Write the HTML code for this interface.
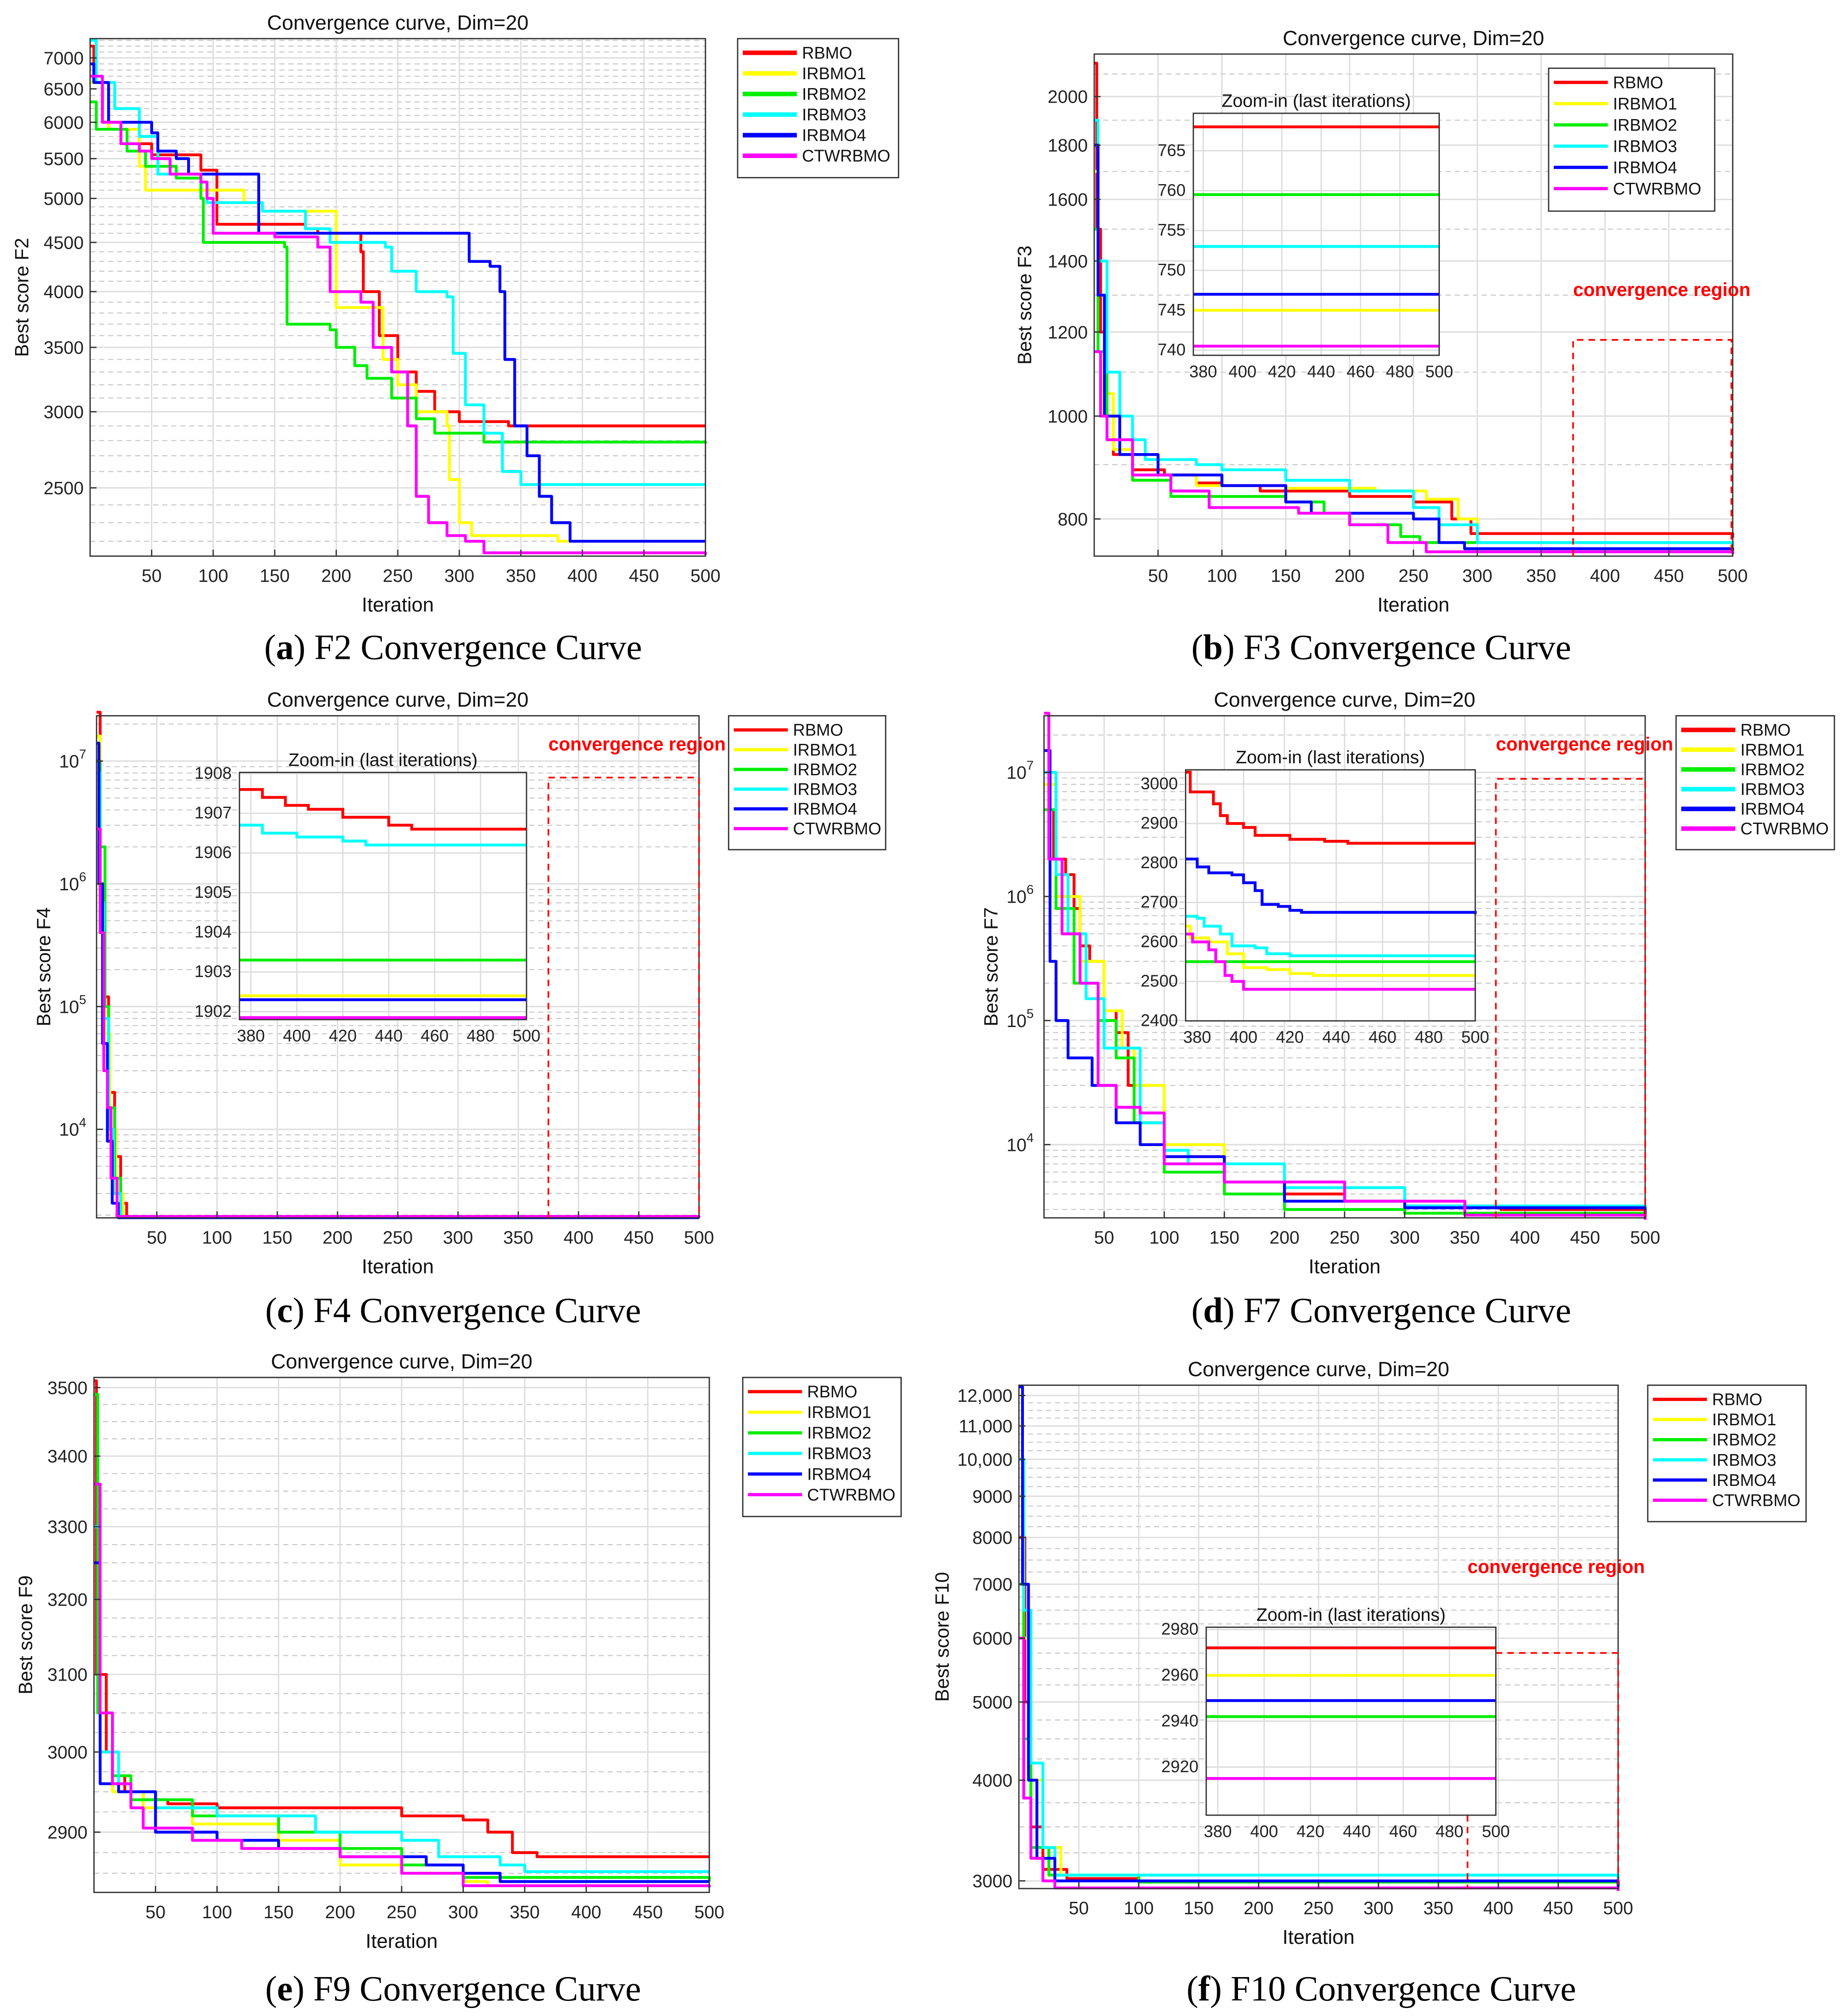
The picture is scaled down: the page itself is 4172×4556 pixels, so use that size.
<!DOCTYPE html>
<html><head><meta charset="utf-8"><style>
html,body{margin:0;padding:0;background:#fff}
svg{display:block}
text{font-family:"Liberation Sans",Arial,sans-serif}
.cap{font-family:"Liberation Serif",serif;font-size:27.5px}
</style></head><body>
<svg id="fig" xmlns="http://www.w3.org/2000/svg" width="4172" height="4556" viewBox="0 0 1434 1566"></svg>
<script>
const names = ["RBMO","IRBMO1","IRBMO2","IRBMO3","IRBMO4","CTWRBMO"];
const colors = ["#ff0000","#ffff00","#00ee00","#00ffff","#0000ff","#ff00ff"];
const xTicks = [50,100,150,200,250,300,350,400,450,500];
const insetXTicks = [380,400,420,440,460,480,500];

// Panel a (F2)
const f2_yTicks = [2500,3000,3500,4000,4500,5000,5500,6000,6500,7000];
const f2_rbmo = [[0,7200],[3,6600],[10,6000],[40,5700],[50,5550],[90,5350],[103,4700],[175,4650],[185,4600],[220,4400],[222,4000],[235,3600],[250,3300],[265,3150],[280,3000],[300,2930],[340,2900],[500,2900]];
const f2_irbmo1 = [[0,6600],[15,5900],[40,5400],[45,5100],[120,5100],[125,4950],[140,4850],[195,4850],[200,3850],[235,3850],[238,3400],[250,3200],[265,3000],[290,2900],[292,2550],[300,2300],[310,2230],[380,2200],[500,2200]];
const f2_irbmo2 = [[0,6300],[5,5900],[30,5600],[45,5400],[70,5250],[90,5000],[92,4500],[158,4450],[160,3700],[195,3650],[200,3500],[215,3350],[225,3250],[245,3100],[265,2950],[280,2850],[320,2790],[500,2780]];
const f2_irbmo3 = [[0,7300],[5,6600],[20,6200],[40,5800],[55,5300],[90,5200],[95,4950],[140,4850],[175,4650],[195,4500],[240,4450],[245,4200],[265,4000],[290,3950],[295,3450],[305,3050],[320,2850],[335,2600],[350,2520],[500,2520]];
const f2_irbmo4 = [[0,6900],[3,6600],[15,6000],[50,5850],[55,5600],[70,5500],[80,5300],[135,5300],[137,4600],[306,4600],[308,4300],[325,4250],[333,4000],[337,3400],[345,2900],[355,2700],[365,2450],[375,2300],[390,2200],[500,2200]];
const f2_ctw = [[0,6700],[10,6000],[25,5700],[40,5600],[50,5500],[65,5300],[90,5200],[95,5000],[100,4600],[150,4560],[185,4450],[195,4000],[220,3900],[230,3500],[245,3300],[258,2900],[265,2450],[275,2300],[290,2230],[305,2200],[320,2140],[500,2130]];

// Panel b (F3)
const f3_yTicks = [800,1000,1200,1400,1600,1800,2000];
const f3_rbmo = [[0,2150],[2,1500],[5,1200],[10,1000],[15,920],[30,890],[55,880],[80,865],[100,860],[130,850],[200,840],[250,830],[280,800],[295,775],[500,768]];
const f3_irbmo1 = [[0,1700],[3,1300],[8,1050],[15,930],[30,880],[80,860],[150,855],[220,850],[260,835],[285,800],[300,760],[500,745]];
const f3_irbmo2 = [[0,1500],[3,1150],[10,950],[30,870],[60,840],[150,830],[180,810],[200,790],[240,770],[255,760],[500,759]];
const f3_irbmo3 = [[0,1900],[3,1400],[10,1100],[20,1000],[30,950],[40,910],[80,900],[100,890],[150,870],[200,850],[250,820],[270,790],[300,760],[500,753]];
const f3_irbmo4 = [[0,1800],[3,1300],[8,1000],[20,920],[50,880],[100,860],[150,830],[170,810],[250,800],[270,760],[290,750],[500,747]];
const f3_ctw = [[0,1150],[5,1000],[10,950],[30,880],[60,850],[90,820],[150,820],[160,810],[200,790],[230,760],[260,745],[500,741]];
const f3_inYTicks = [740,745,750,755,760,765];
const f3_final = [768,745,759.5,753,747,740.5];

// Panel c (F4)
const f4_rbmo = [[0,2.5e7],[3,1e6],[6,1.2e5],[10,2e4],[15,6000],[20,2500],[25,1910],[500,1906.6]];
const f4_irbmo1 = [[0,1.6e7],[3,5e5],[7,6e4],[11,1e4],[16,3000],[22,1905],[500,1902.4]];
const f4_irbmo2 = [[0,1e7],[3,2e6],[7,1e5],[10,1.5e4],[15,4000],[20,1950],[500,1903.3]];
const f4_irbmo3 = [[0,8e6],[3,7e5],[6,8e4],[10,1e4],[14,3000],[20,1920],[500,1906.2]];
const f4_irbmo4 = [[0,1.4e7],[2,1e6],[5,5e4],[9,8000],[13,2500],[18,1905],[500,1902.3]];
const f4_ctw = [[0,2.8e6],[3,4e5],[6,3e4],[9,1.5e4],[12,4000],[17,1950],[500,1901.8]];
const f4_inYTicks = [1902,1903,1904,1905,1906,1907,1908];
const f4_in_rbmo = [[375,1907.6],[385,1907.4],[395,1907.2],[405,1907.1],[420,1906.9],[440,1906.7],[450,1906.6],[500,1906.6]];
const f4_in_irbmo1 = [[375,1902.4],[500,1902.4]];
const f4_in_irbmo2 = [[375,1903.3],[500,1903.3]];
const f4_in_irbmo3 = [[375,1906.7],[385,1906.5],[400,1906.4],[420,1906.3],[430,1906.2],[500,1906.2]];
const f4_in_irbmo4 = [[375,1902.3],[500,1902.3]];
const f4_in_ctw = [[375,1901.85],[500,1901.85]];

// Panel d (F7)
const f7_rbmo = [[0,1e7],[5,5e6],[8,2e6],[18,1.5e6],[25,8e5],[30,4e5],[38,3e5],[50,1.2e5],[60,8e4],[70,3e4],[80,1.5e4],[100,8000],[150,5000],[200,4000],[250,3500],[300,3200],[380,3000],[500,3000]];
const f7_irbmo1 = [[0,8e6],[10,1e6],[30,3e5],[50,1.2e5],[65,6e4],[75,3e4],[100,1e4],[150,5000],[250,3500],[350,2800],[500,2520]];
const f7_irbmo2 = [[0,5e6],[10,8e5],[25,2e5],[45,1e5],[60,5e4],[75,1.5e4],[100,6000],[150,4000],[200,3000],[300,2800],[500,2550]];
const f7_irbmo3 = [[0,1e7],[10,1.5e6],[20,5e5],[35,1.5e5],[50,6e4],[80,1.5e4],[100,9000],[120,7000],[200,4500],[300,3200],[500,2565]];
const f7_irbmo4 = [[0,1.5e7],[5,3e5],[10,1e5],[20,5e4],[40,3e4],[60,1.5e4],[80,1e4],[100,8000],[150,5000],[200,3500],[300,3100],[500,2670]];
const f7_ctw = [[0,3e7],[4,2e6],[15,5e5],[30,2e5],[45,3e4],[60,2e4],[80,1.8e4],[100,7000],[150,5000],[250,3500],[350,2700],[500,2480]];
const f7_inYTicks = [2400,2500,2600,2700,2800,2900,3000];
const f7_in_rbmo = [[375,3030],[377,2980],[387,2950],[390,2920],[393,2900],[400,2890],[405,2870],[420,2860],[435,2855],[445,2850],[500,2850]];
const f7_in_irbmo1 = [[375,2640],[377,2610],[385,2600],[393,2570],[400,2535],[410,2530],[420,2520],[430,2515],[500,2515]];
const f7_in_irbmo2 = [[375,2550],[500,2550]];
const f7_in_irbmo3 = [[375,2665],[380,2660],[383,2640],[390,2620],[395,2590],[405,2585],[410,2570],[420,2565],[500,2565]];
const f7_in_irbmo4 = [[375,2810],[380,2790],[385,2775],[395,2770],[400,2750],[405,2730],[408,2695],[415,2690],[420,2680],[425,2675],[500,2670]];
const f7_in_ctw = [[375,2620],[378,2600],[385,2580],[388,2550],[392,2515],[395,2500],[400,2480],[500,2480]];

// Panel e (F9)
const f9_yTicks = [2900,3000,3100,3200,3300,3400,3500];
const f9_rbmo = [[0,3510],[2,3100],[10,3000],[15,2970],[25,2950],[40,2940],[60,2935],[100,2930],[240,2930],[250,2920],[300,2915],[320,2900],[340,2875],[360,2870],[500,2870]];
const f9_irbmo1 = [[0,3300],[5,3000],[15,2950],[40,2930],[80,2910],[150,2890],[200,2860],[250,2850],[300,2840],[320,2835],[500,2835]];
const f9_irbmo2 = [[0,3490],[3,3050],[15,2970],[30,2940],[80,2920],[150,2900],[200,2880],[250,2860],[300,2845],[500,2840]];
const f9_irbmo3 = [[0,3300],[5,3000],[20,2950],[50,2930],[100,2920],[180,2900],[250,2890],[280,2870],[330,2860],[350,2852],[500,2852]];
const f9_irbmo4 = [[0,3250],[5,2960],[20,2950],[50,2900],[100,2890],[150,2880],[200,2870],[270,2860],[300,2850],[330,2840],[500,2840]];
const f9_ctw = [[0,3360],[5,3050],[15,2960],[30,2930],[40,2905],[80,2890],[120,2880],[200,2870],[250,2850],[300,2835],[500,2833]];

// Panel f (F10)
const f10_yTicks = [3000,4000,5000,6000,7000,8000,9000,10000,11000,12000];
const f10_rbmo = [[0,8000],[5,5000],[10,3500],[20,3100],[40,3020],[100,3000],[500,2972]];
const f10_irbmo1 = [[0,9000],[4,6000],[10,4000],[20,3300],[35,3050],[100,3000],[500,2960]];
const f10_irbmo2 = [[0,7000],[4,4500],[10,3300],[25,3050],[100,2990],[500,2942]];
const f10_irbmo3 = [[0,10000],[4,6500],[10,4200],[20,3300],[30,3050],[500,2915]];
const f10_irbmo4 = [[0,12300],[3,7000],[8,4000],[15,3200],[30,3000],[500,2949]];
const f10_ctw = [[0,6000],[4,3800],[10,3200],[20,3000],[30,2940],[500,2915]];
const f10_inYTicks = [2920,2940,2960,2980];
const f10_final = [2972,2960,2942,2915,2949,2915];

const svg = document.getElementById('fig');
const NS = "http://www.w3.org/2000/svg";
function el(tag, attrs, parent, txt){
  const e = document.createElementNS(NS, tag);
  for (const k in attrs) e.setAttribute(k, attrs[k]);
  if (txt !== undefined) e.textContent = txt;
  (parent || svg).appendChild(e);
  return e;
}
function logScale(v0,v1,p0,p1){return v=>p0+(Math.log(v)-Math.log(v0))/(Math.log(v1)-Math.log(v0))*(p1-p0);}
function linScale(v0,v1,p0,p1){return v=>p0+(v-v0)/(v1-v0)*(p1-p0);}
function stepPath(pts,X,Y){
  let d = "M"+X(pts[0][0]).toFixed(2)+" "+Y(pts[0][1]).toFixed(2);
  for (let i=1;i<pts.length;i++) d += "H"+X(pts[i][0]).toFixed(2)+"V"+Y(pts[i][1]).toFixed(2);
  return d;
}
function gridH(g,y,x0,x1,dashed){
  const l = el('line',{x1:x0,x2:x1,y1:y,y2:y,stroke:dashed?'#c8c8c8':'#dcdcdc','stroke-width':dashed?0.8:1,'stroke-dasharray':dashed?'4 3':'none'},g);
  
  
}
function gridV(g,x,y0,y1){
  const l = el('line',{x1:x,x2:x,y1:y0,y2:y1,stroke:'#dcdcdc','stroke-width':1},g);
  
  
}

function panel(o){
  const g = el('g',{});
  
  
  const [bx0,by0,bx1,by1] = o.box;
  const X = linScale(0,500,bx0,bx1);
  const Y = logScale(o.ymin,o.ymax,by1,by0);
  (o.minor||[]).forEach(v=>{ if(v>o.ymin&&v<o.ymax) gridH(g,Y(v),bx0,bx1,true); });
  o.yTicks.forEach(v=>gridH(g,Y(v),bx0,bx1,false));
  xTicks.forEach(v=>gridV(g,X(v),by0,by1));
  o.series.forEach((s,i)=>{
    const p = el('path',{d:stepPath(s,X,Y),fill:'none',stroke:colors[i],'stroke-width':2.2,'stroke-linejoin':'round'},g);
    
    
  });
  const r = el('rect',{x:bx0,y:by0,width:bx1-bx0,height:by1-by0,fill:'none',stroke:'#333','stroke-width':1},g);
  
  
  xTicks.forEach(v=>{
    const t = el('text',{x:X(v),y:by1+20,'font-size':14,'text-anchor':'middle',fill:'#222'},g,String(v));
    
    
    el('line',{x1:X(v),x2:X(v),y1:by1,y2:by1-5,stroke:'#333'},g);
  });
  o.yTicks.forEach(v=>{
    const y = Y(v);
    if (o.decadeLabels){
      const t = el('text',{x:bx0-8,y:y+5,'font-size':14,'text-anchor':'end',fill:'#222'},g);
      
      
      el('tspan',{},t,'10');
      el('tspan',{dy:-7,'font-size':10},t,String(Math.round(Math.log10(v))));
    } else {
      const lab = v>=10000 ? v.toLocaleString('en-US') : String(v);
      const t = el('text',{x:bx0-5,y:y+5,'font-size':14,'text-anchor':'end',fill:'#222'},g,lab);
      
      
    }
    el('line',{x1:bx0,x2:bx0+5,y1:y,y2:y,stroke:'#333'},g);
  });
  const ti = el('text',{x:(bx0+bx1)/2,y:by0-7,'font-size':16,'text-anchor':'middle',fill:'#111'},g,'Convergence curve, Dim=20');
  
  
  const xl = el('text',{x:(bx0+bx1)/2,y:by1+43,'font-size':15.5,'text-anchor':'middle',fill:'#111'},g,'Iteration');
  
  
  const yl = el('text',{x:0,y:0,'font-size':15,'text-anchor':'middle',fill:'#111',transform:`translate(${o.ylx},${(by0+by1)/2}) rotate(-90)`},g,'Best score '+o.fn);
  
  
  const [lx,ly,lw,lh] = o.legend;
  const lg = el('g',{},g);
  
  
  el('rect',{x:lx,y:ly,width:lw,height:lh,fill:'#fff',stroke:'#333'},lg);
  const step = (lh-12)/6;
  names.forEach((n,i)=>{
    const yy = ly+11+step*i;
    const e = el('g',{},lg);
    
    
    el('line',{x1:lx+4,x2:lx+46,y1:yy,y2:yy,stroke:colors[i],'stroke-width':o.thickLegend?3.5:2.5},e);
    el('text',{x:lx+50,y:yy+4.5,'font-size':13,fill:'#111'},e,n);
  });
  const c = el('text',{x:o.cap[0],y:o.cap[1],'text-anchor':'middle',class:'cap'},g);
  
  
  el('tspan',{},c,'(');
  el('tspan',{'font-weight':'bold'},c,o.letter);
  el('tspan',{},c,') '+o.fn+' Convergence Curve');
  if (o.region){
    const [rx0,ry0,rx1,ry1,tx,ty] = o.region;
    const rg = el('path',{d:o.regionPath||`M${rx0} ${ry1}V${ry0}H${rx1}V${ry1}`,fill:'none',stroke:'#ff0000','stroke-width':1.3,'stroke-dasharray':'5 4'},g);
    
    
    const rt = el('text',{x:tx,y:ty,'font-size':14.5,'font-weight':'bold',fill:'#ff0000'},g,'convergence region');
    
    
  }
  if (o.inset) inset(g,o.inset);
}

function inset(parent,o){
  const g = el('g',{},parent);
  
  
  const [x0,y0,x1,y1] = o.box;
  const X = linScale(375,500,x0,x1);
  const Y = linScale(o.ymin,o.ymax,y1,y0);
  el('rect',{x:x0,y:y0,width:x1-x0,height:y1-y0,fill:'#fff'},g);
  o.yTicks.forEach(v=>gridH(g,Y(v),x0,x1,false));
  insetXTicks.forEach(v=>gridV(g,X(v),y0,y1));
  o.series.forEach((s,i)=>{
    const p = el('path',{d:stepPath(s,X,Y),fill:'none',stroke:colors[i],'stroke-width':2.2},g);
    
    
  });
  el('rect',{x:x0,y:y0,width:x1-x0,height:y1-y0,fill:'none',stroke:'#333'},g);
  insetXTicks.forEach(v=>{
    const t = el('text',{x:X(v),y:y1+17,'font-size':13,'text-anchor':'middle',fill:'#222'},g,String(v));
    
    
  });
  o.yTicks.forEach(v=>{
    const t = el('text',{x:x0-6,y:Y(v)+4,'font-size':13,'text-anchor':'end',fill:'#222'},g,String(v));
    
    
  });
  const t = el('text',{x:(x0+x1)/2,y:y0-5,'font-size':14,'text-anchor':'middle',fill:'#111'},g,'Zoom-in (last iterations)');
  
  
}
function flat(vals){ return vals.map(v=>[[375,v],[500,v]]); }
function minorLog(d0,d1){ const a=[]; for(let d=d0; d<=d1; d++) for(let k=2;k<=9;k++) a.push(k*Math.pow(10,d)); return a; }
function range(a,b,s){ const r=[]; for(let v=a; v<=b; v+=s) r.push(v); return r; }

panel({id:'panel-a-f2',fn:'F2',letter:'a',box:[70,30,548,432],ymin:2123,ymax:7331,yTicks:f2_yTicks,minor:range(2200,7300,100),
  series:[f2_rbmo,f2_irbmo1,f2_irbmo2,f2_irbmo3,f2_irbmo4,f2_ctw],ylx:22,legend:[573,30,125,108],thickLegend:true,cap:[352,512]});
panel({id:'panel-b-f3',fn:'F3',letter:'b',box:[850,42,1346,432],ymin:738,ymax:2193,yTicks:f3_yTicks,minor:range(800,2200,100),
  series:[f3_rbmo,f3_irbmo1,f3_irbmo2,f3_irbmo3,f3_irbmo4,f3_ctw],ylx:801,legend:[1203,53,129,111],cap:[1073,512],
  region:[1222,264,1345,432,1222,230],
  inset:{box:[927,88,1118,276],ymin:739.35,ymax:769.7,yTicks:f3_inYTicks,series:flat(f3_final)}});
panel({id:'panel-c-f4',fn:'F4',letter:'c',box:[75,556,543,946],ymin:1900,ymax:2.34e7,yTicks:[1e4,1e5,1e6,1e7],decadeLabels:true,minor:minorLog(3,7),
  series:[f4_rbmo,f4_irbmo1,f4_irbmo2,f4_irbmo3,f4_irbmo4,f4_ctw],ylx:39,legend:[566,556,122,104],cap:[352,1027],
  region:[426,604,543,946,426,583],
  inset:{box:[186,600,409,792],ymin:1901.8,ymax:1908.03,yTicks:f4_inYTicks,series:[f4_in_rbmo,f4_in_irbmo1,f4_in_irbmo2,f4_in_irbmo3,f4_in_irbmo4,f4_in_ctw]}});
panel({id:'panel-d-f7',fn:'F7',letter:'d',box:[811,556,1278,946],ymin:2570,ymax:2.86e7,yTicks:[1e4,1e5,1e6,1e7],decadeLabels:true,minor:minorLog(3,7),
  series:[f7_rbmo,f7_irbmo1,f7_irbmo2,f7_irbmo3,f7_irbmo4,f7_ctw],ylx:775,legend:[1302,556,123,104],thickLegend:true,cap:[1073,1027],
  region:[1162,605,1278,946,1162,583],
  inset:{box:[921,598,1146,793],ymin:2400,ymax:3036,yTicks:f7_inYTicks,series:[f7_in_rbmo,f7_in_irbmo1,f7_in_irbmo2,f7_in_irbmo3,f7_in_irbmo4,f7_in_ctw]}});
panel({id:'panel-e-f9',fn:'F9',letter:'e',box:[73,1070,551,1470],ymin:2827,ymax:3515,yTicks:f9_yTicks,minor:range(2850,3500,25),
  series:[f9_rbmo,f9_irbmo1,f9_irbmo2,f9_irbmo3,f9_irbmo4,f9_ctw],ylx:25,legend:[577,1070,123,108],cap:[352,1554]});
panel({id:'panel-f-f10',fn:'F10',letter:'f',box:[791.5,1076,1257,1467],ymin:2935,ymax:12358,yTicks:f10_yTicks,minor:range(3000,12000,250),
  series:[f10_rbmo,f10_irbmo1,f10_irbmo2,f10_irbmo3,f10_irbmo4,f10_ctw],ylx:737,legend:[1280,1076,123,106],cap:[1073,1554],
  region:[1140,1284,1257,1467,1140,1222],regionPath:'M1162 1284H1257V1467M1140 1410V1467',
  inset:{box:[937,1264,1162,1410],ymin:2899,ymax:2981,yTicks:f10_inYTicks,series:flat(f10_final)}});
</script>
</body></html>
